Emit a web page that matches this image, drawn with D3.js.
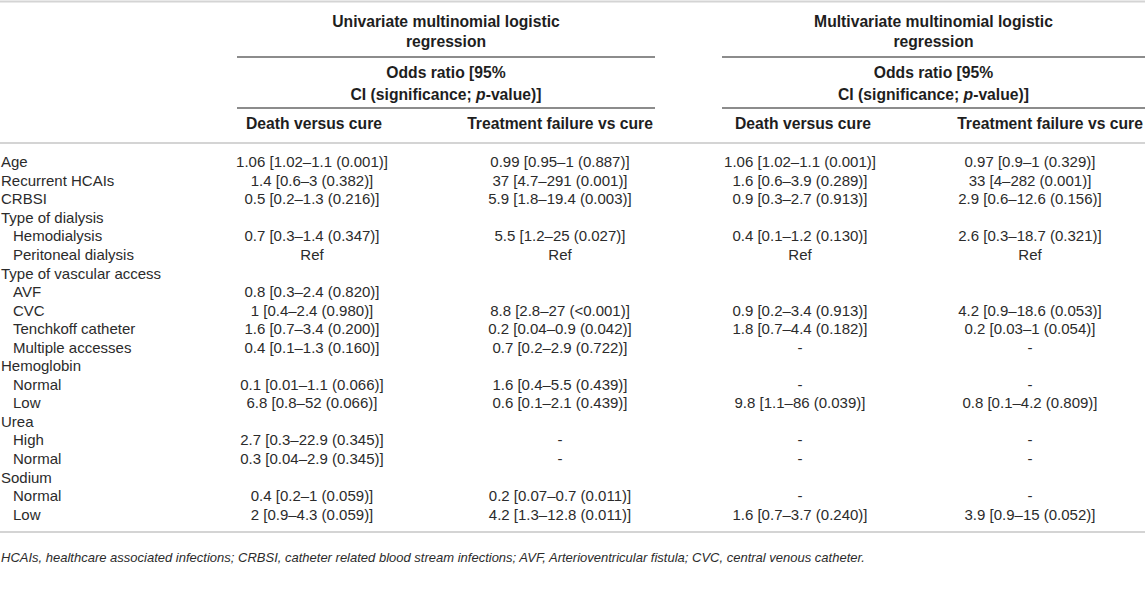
<!DOCTYPE html>
<html>
<head>
<meta charset="utf-8">
<script src="https://cdn.jsdelivr.net/npm/d3@7"></script>
<style>
  body { margin: 0; background: #fff; }
  svg text { font-family: "Liberation Sans", Arial, sans-serif; }
</style>
</head>
<body>
<svg id="table" width="1145" height="614"></svg>
<script>
// table content
const rowLabels = ["Age", "Recurrent HCAIs", "CRBSI", "Type of dialysis", "Hemodialysis",
    "Peritoneal dialysis", "Type of vascular access", "AVF", "CVC", "Tenchkoff catheter",
    "Multiple accesses", "Hemoglobin", "Normal", "Low", "Urea", "High", "Normal", "Sodium",
    "Normal", "Low"];
const rowIndent = [0, 0, 0, 0, 1, 1, 0, 1, 1, 1, 1, 0, 1, 1, 0, 1, 1, 0, 1, 1];

const uniDeath = ["1.06 [1.02–1.1 (0.001)]", "1.4 [0.6–3 (0.382)]", "0.5 [0.2–1.3 (0.216)]", "",
    "0.7 [0.3–1.4 (0.347)]", "Ref", "", "0.8 [0.3–2.4 (0.820)]", "1 [0.4–2.4 (0.980)]",
    "1.6 [0.7–3.4 (0.200)]", "0.4 [0.1–1.3 (0.160)]", "", "0.1 [0.01–1.1 (0.066)]",
    "6.8 [0.8–52 (0.066)]", "", "2.7 [0.3–22.9 (0.345)]", "0.3 [0.04–2.9 (0.345)]", "",
    "0.4 [0.2–1 (0.059)]", "2 [0.9–4.3 (0.059)]"];
const uniFail = ["0.99 [0.95–1 (0.887)]", "37 [4.7–291 (0.001)]", "5.9 [1.8–19.4 (0.003)]", "",
    "5.5 [1.2–25 (0.027)]", "Ref", "", "", "8.8 [2.8–27 (<0.001)]", "0.2 [0.04–0.9 (0.042)]",
    "0.7 [0.2–2.9 (0.722)]", "", "1.6 [0.4–5.5 (0.439)]", "0.6 [0.1–2.1 (0.439)]", "",
    "-", "-", "", "0.2 [0.07–0.7 (0.011)]", "4.2 [1.3–12.8 (0.011)]"];
const multiDeath = ["1.06 [1.02–1.1 (0.001)]", "1.6 [0.6–3.9 (0.289)]", "0.9 [0.3–2.7 (0.913)]", "",
    "0.4 [0.1–1.2 (0.130)]", "Ref", "", "", "0.9 [0.2–3.4 (0.913)]", "1.8 [0.7–4.4 (0.182)]",
    "-", "", "-", "9.8 [1.1–86 (0.039)]", "", "-", "-", "", "-", "1.6 [0.7–3.7 (0.240)]"];
const multiFail = ["0.97 [0.9–1 (0.329)]", "33 [4–282 (0.001)]", "2.9 [0.6–12.6 (0.156)]", "",
    "2.6 [0.3–18.7 (0.321)]", "Ref", "", "", "4.2 [0.9–18.6 (0.053)]", "0.2 [0.03–1 (0.054)]",
    "-", "", "-", "0.8 [0.1–4.2 (0.809)]", "", "-", "-", "", "-", "3.9 [0.9–15 (0.052)]"];

const groupTitles = [["Univariate multinomial logistic", "regression"],
    ["Multivariate multinomial logistic", "regression"]];
const columnTitles = ["Death versus cure", "Treatment failure vs cure",
    "Death versus cure", "Treatment failure vs cure"];
const footnote = "HCAIs, healthcare associated infections; CRBSI, catheter related blood stream infections; AVF, Arterioventricular fistula; CVC, central venous catheter.";

const svg = d3.select('#table');
const width = +svg.attr('width');

const columns = [uniDeath, uniFail, multiDeath, multiFail];
const colKeys = ["uniDeath", "uniFail", "multiDeath", "multiFail"];

// column centres (last header overflows its cell to the right, so it is placed by its left edge)
const xCol = d3.scaleOrdinal().domain(colKeys).range([312, 560, 800, 1030]);
const xHead = d3.scaleOrdinal().domain(colKeys).range([314, 560, 803, 1050]);
const groups = [{ x0: 237, x1: 655 }, { x0: 722, x1: width }];

const y = d3.scaleBand()
    .domain(d3.range(rowLabels.length))
    .range([152.7, 152.7 + 18.55 * rowLabels.length]);
const yMid = i => y(i) + y.bandwidth() / 2;

const bodyColor = '#2b2b2b';
const lightRule = '#d4d4d4';
const darkRule = '#8c8c8c';

// rules
const rule = (x0, x1, yy, c) => svg.append('line')
    .attr('x1', x0).attr('x2', x1).attr('y1', yy).attr('y2', yy)
    .attr('stroke', c).attr('stroke-width', 2);

rule(0, width, 1.5, lightRule);
groups.forEach(g => {
    rule(g.x0, g.x1, 57, darkRule);
    rule(g.x0, g.x1, 108, darkRule);
});
rule(0, width, 143, lightRule);
rule(0, width, 532, lightRule);

// group headers
const head = svg.append('g')
    .attr('font-weight', 'bold')
    .attr('font-size', 15.7)
    .attr('fill', '#1e1e1e')
    .attr('text-anchor', 'middle');

groups.forEach((g, gi) => {
    const cx = (g.x0 + g.x1) / 2;
    groupTitles[gi].forEach((t, k) => {
        head.append('text').attr('x', cx).attr('y', 22 + 20 * k).attr('dy', '0.35em').text(t);
    });
    head.append('text').attr('x', cx).attr('y', 73).attr('dy', '0.35em').text('Odds ratio [95%');
    const ci = head.append('text').attr('x', cx).attr('y', 95).attr('dy', '0.35em');
    ci.append('tspan').text('CI (significance; ');
    ci.append('tspan').attr('font-style', 'italic').text('p');
    ci.append('tspan').text('-value)]');
});

head.selectAll('text.col').data(columnTitles)
    .enter().append('text')
    .attr('class', 'col')
    .attr('x', (d, i) => xHead(colKeys[i]))
    .attr('y', 124)
    .attr('dy', '0.35em')
    .text(d => d);

// body
const body = svg.append('g')
    .attr('font-size', 15)
    .attr('fill', bodyColor);

body.selectAll('text.label').data(rowLabels)
    .enter().append('text')
    .attr('class', 'label')
    .attr('x', (d, i) => rowIndent[i] ? 13 : 1)
    .attr('y', (d, i) => yMid(i))
    .attr('dy', '0.35em')
    .text(d => d);

columns.forEach((col, ci) => {
    body.selectAll(`text.c${ci}`).data(col)
        .enter().append('text')
        .attr('class', `c${ci}`)
        .attr('x', xCol(colKeys[ci]))
        .attr('y', (d, i) => yMid(i))
        .attr('dy', '0.35em')
        .attr('text-anchor', 'middle')
        .text(d => d);
});

svg.append('text')
    .attr('x', 1)
    .attr('y', 557)
    .attr('dy', '0.35em')
    .attr('font-size', 13)
    .attr('font-style', 'italic')
    .attr('fill', bodyColor)
    .text(footnote);
</script>
</body>
</html>
